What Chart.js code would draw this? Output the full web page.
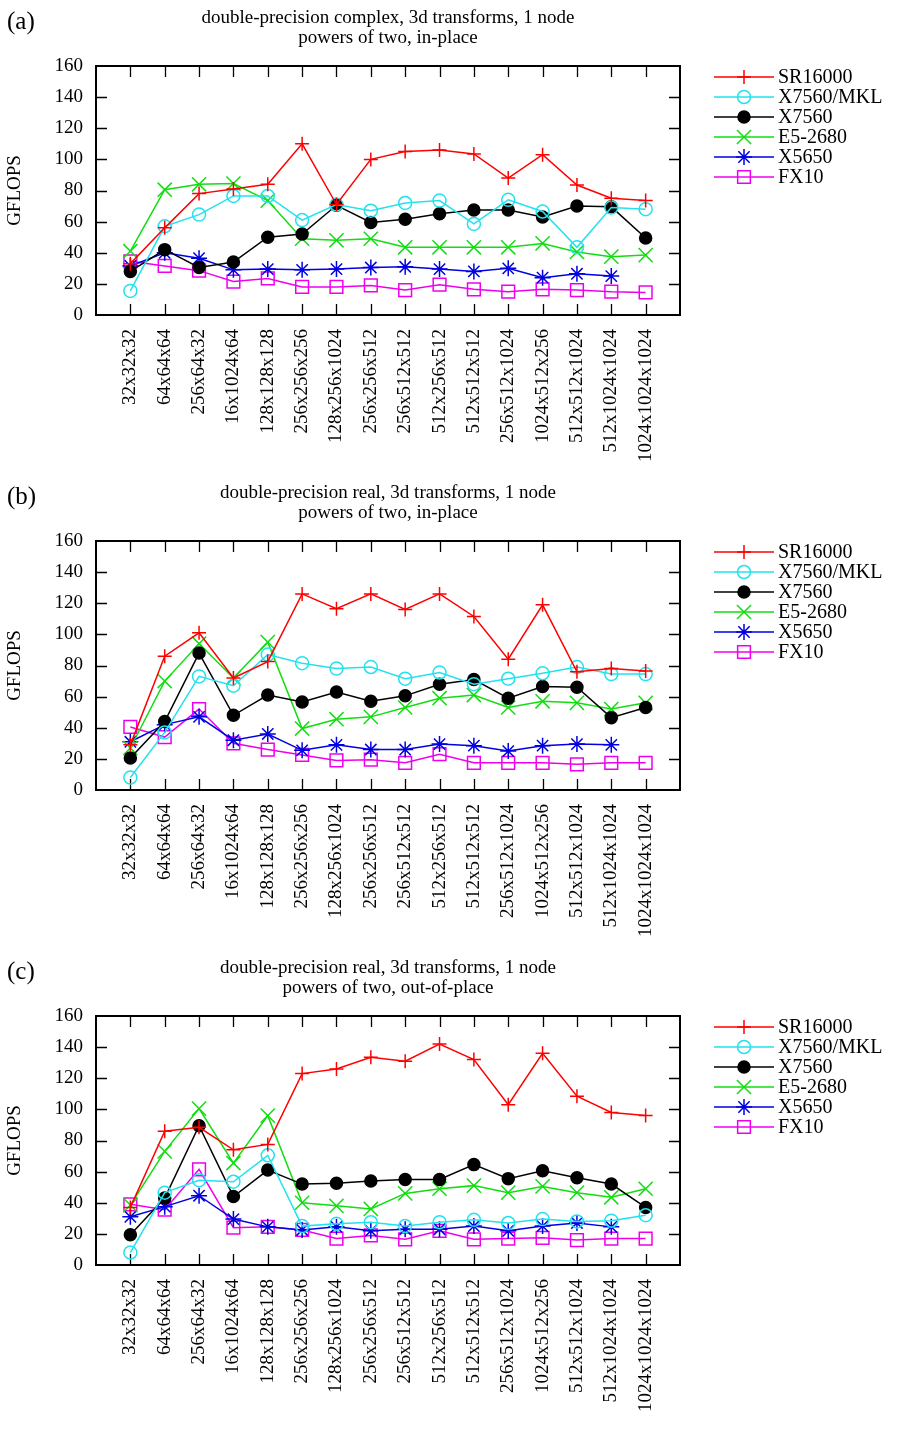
<!DOCTYPE html>
<html>
<head>
<meta charset="utf-8">
<script src="https://cdn.jsdelivr.net/npm/chart.js@4"></script>
<style>
  html, body { margin: 0; padding: 0; background: #fff; }
  #wrap { position: relative; width: 902px; height: 1440px; }
  canvas { position: absolute; left: 0; }
</style>
</head>
<body>
<div id="wrap">
  <canvas id="ca" width="902" height="475" style="top:0px"></canvas>
  <canvas id="cb" width="902" height="475" style="top:475px"></canvas>
  <canvas id="cc" width="902" height="475" style="top:950px"></canvas>
</div>
<script>
// ---------- data ----------
const categories = ['32x32x32','64x64x64','256x64x32','16x1024x64','128x128x128','256x256x256',
  '128x256x1024','256x256x512','256x512x512','512x256x512','512x512x512','256x512x1024',
  '1024x512x256','512x512x1024','512x1024x1024','1024x1024x1024'];
const seriesNames = ['SR16000','X7560/MKL','X7560','E5-2680','X5650','FX10'];
const yTicks = [0,20,40,60,80,100,120,140,160];

const titleA = ['double-precision complex, 3d transforms, 1 node', 'powers of two, in-place'];
const titleB = ['double-precision real, 3d transforms, 1 node', 'powers of two, in-place'];
const titleC = ['double-precision real, 3d transforms, 1 node', 'powers of two, out-of-place'];

// panel (a)
const aSR16000 = [33, 56, 78, 81, 84, 110, 71, 100, 105, 106, 103.5, 88, 103, 83.5, 75, 73.5];
const aX7560MKL = [15.5, 57, 64.5, 76.5, 76.5, 61, 71, 67, 72, 73.5, 58.5, 74, 66.5, 43.5, 69, 68];
const aX7560 = [28, 42, 30.5, 34, 50, 52, 70.5, 59.5, 61.5, 65, 67.5, 67.5, 63, 70, 69.5, 49.5];
const aE52680 = [41, 80.5, 84, 84.5, 73.5, 49, 48, 49, 43.5, 43.5, 43.5, 43.5, 46, 40.5, 37.5, 38.5];
const aX5650 = [31.5, 40, 36.5, 29, 29.5, 29, 29.5, 30.5, 31, 29.5, 28, 30, 24, 26.5, 25, null];
const aFX10 = [34.5, 31.5, 28.5, 21.5, 23.5, 18, 18, 19, 16, 19.5, 16.5, 15, 16.5, 16, 15, 14.5];

// panel (b)
const bSR16000 = [29, 86, 101, 72, 82.5, 126, 116.5, 126, 116, 126, 111.5, 84, 119, 76, 78, 76.5];
const bX7560MKL = [8, 37, 73, 67, 87, 81.5, 78, 79, 71.5, 75.5, 68, 71.5, 75, 79, 74.5, 74.5];
const bX7560 = [20.5, 44, 88, 48, 61, 56.5, 63, 57, 60.5, 68, 71, 59, 66.5, 66, 46.5, 53];
const bE52680 = [27, 70, 94, 72, 95, 39.5, 45.5, 47, 53, 59, 61, 53, 57, 56, 52, 56];
const bX5650 = [31, 42, 47, 32, 36, 25.5, 29, 26, 26, 29.5, 28.5, 25, 28.5, 29.5, 29, null];
const bFX10 = [40.5, 34, 52, 30, 26, 22.5, 19, 19.5, 17.5, 23, 17.5, 17.5, 17.5, 16.5, 17.5, 17.5];

// panel (c)
const cSR16000 = [37, 86, 88.5, 74, 77.5, 123, 126, 133.5, 131, 142, 132, 103, 136, 108.5, 98, 96];
const cX7560MKL = [8, 46.5, 54.5, 53.5, 70.5, 25, 26.5, 27.5, 25, 27.5, 29, 27, 29.5, 28, 28.5, 32];
const cX7560 = [19.5, 43, 89.5, 44, 61, 52, 52.5, 54, 55, 55, 64.5, 55.5, 60.5, 56, 52, 37];
const cE52680 = [38.5, 73, 100.5, 65.5, 96, 40, 38, 36, 46, 49, 51, 46.5, 50.5, 46.5, 43.5, 49];
const cX5650 = [31, 37.5, 44.5, 29.5, 24.5, 22.5, 24.5, 22, 23, 23, 25, 22, 25, 27, 24.5, null];
const cFX10 = [39, 35.5, 61.5, 24, 24.5, 22.5, 17, 19, 16.5, 22, 16.5, 17, 17.5, 16, 17, 17];

// ---------- styles ----------
const FONT = "'Liberation Serif', 'Times New Roman', serif";
const styles = [
  { color: '#ff0000', pointStyle: 'cross',    radius: 7,   fill: 'rgba(0,0,0,0)' },
  { color: '#22e2ee', pointStyle: 'circle',   radius: 6.5, fill: 'rgba(0,0,0,0)' },
  { color: '#000000', pointStyle: 'circle',   radius: 6,   fill: '#000000' },
  { color: '#11dd11', pointStyle: 'crossRot', radius: 10,  fill: 'rgba(0,0,0,0)' },
  { color: '#0000e0', pointStyle: 'star',     radius: 8,   fill: 'rgba(0,0,0,0)' },
  { color: '#ee00ee', pointStyle: 'rect',     radius: 9,   fill: 'rgba(0,0,0,0)' }
];

function toPoints(arr) {
  const pts = [];
  arr.forEach((v, i) => { if (v !== null) pts.push({ x: i, y: v }); });
  return pts;
}

const framePlugin = {
  id: 'frame',
  beforeDatasetsDraw(chart) {
    const { ctx, chartArea: a, scales: { x, y } } = chart;
    ctx.save();
    ctx.strokeStyle = '#000';
    ctx.lineWidth = 1.3;
    const TL = 11;
    ctx.beginPath();
    for (let i = 0; i < categories.length; i++) {
      const px = Math.round(x.getPixelForValue(i)) + 0.5;
      ctx.moveTo(px, a.bottom); ctx.lineTo(px, a.bottom - TL);
      ctx.moveTo(px, a.top); ctx.lineTo(px, a.top + TL);
    }
    yTicks.forEach(t => {
      if (t === yTicks[0] || t === yTicks[yTicks.length - 1]) return;
      const py = Math.round(y.getPixelForValue(t)) + 0.5;
      ctx.moveTo(a.left, py); ctx.lineTo(a.left + TL, py);
      ctx.moveTo(a.right, py); ctx.lineTo(a.right - TL, py);
    });
    ctx.stroke();
    ctx.lineWidth = 2;
    ctx.strokeRect(a.left, a.top, a.right - a.left, a.bottom - a.top);
    ctx.restore();
  },
  afterDraw(chart) {
    const { ctx } = chart;
    const opts = chart.options.plugins.frame;
    ctx.save();
    // panel label
    ctx.fillStyle = '#000';
    ctx.font = '25px ' + FONT;
    ctx.textBaseline = 'middle';
    ctx.textAlign = 'left';
    ctx.fillText(opts.label, 7, 22);
    // legend
    chart.data.datasets.forEach((ds, i) => {
      const st = styles[i];
      const yy = 77 + 20 * i;
      ctx.strokeStyle = st.color;
      ctx.lineWidth = 1.5;
      ctx.beginPath();
      ctx.moveTo(714, yy); ctx.lineTo(774, yy);
      ctx.stroke();
      ctx.fillStyle = st.fill;
      Chart.helpers.drawPoint(ctx, { pointStyle: st.pointStyle, radius: st.radius, borderWidth: 1.5, rotation: 0 }, 744, yy);
      ctx.fillStyle = '#000';
      ctx.font = '20px ' + FONT;
      ctx.textAlign = 'left';
      ctx.textBaseline = 'middle';
      ctx.fillText(ds.label, 778, yy + 1);
    });
    ctx.restore();
  }
};

function makeChart(id, label, title, arrays) {
  const datasets = arrays.map((arr, i) => ({
    label: seriesNames[i],
    data: toPoints(arr),
    borderColor: styles[i].color,
    backgroundColor: styles[i].fill,
    pointBackgroundColor: styles[i].fill,
    pointBorderColor: styles[i].color,
    pointStyle: styles[i].pointStyle,
    pointRadius: styles[i].radius,
    pointBorderWidth: 1.5,
    borderWidth: 1.5,
    tension: 0,
    fill: false
  }));
  return new Chart(document.getElementById(id), {
    type: 'line',
    data: { datasets },
    plugins: [framePlugin],
    options: {
      responsive: false,
      animation: false,
      events: [],
      layout: { padding: { left: 0, right: 222, top: 0, bottom: 0 } },
      plugins: {
        legend: { display: false },
        tooltip: { enabled: false },
        frame: { label },
        title: {
          display: true,
          fullSize: false,
          text: title,
          color: '#000',
          font: { family: FONT, size: 19, weight: 'normal', lineHeight: '20px' },
          padding: { top: 8, bottom: 18 }
        }
      },
      scales: {
        x: {
          type: 'linear',
          min: -1,
          max: 16,
          afterFit: s => { s.height = 160; },
          afterBuildTicks: s => { s.ticks = categories.map((c, i) => ({ value: i })); },
          grid: { display: false, drawTicks: false },
          border: { display: false },
          ticks: {
            autoSkip: false,
            maxRotation: 90,
            minRotation: 90,
            padding: 14,
            color: '#000',
            font: { family: FONT, size: 19 },
            callback: v => (categories[v] !== undefined ? categories[v] : '')
          }
        },
        y: {
          min: 0,
          max: 160,
          afterFit: s => { s.width = 96; },
          afterBuildTicks: s => { s.ticks = yTicks.map(v => ({ value: v })); },
          grid: { display: false, drawTicks: false },
          border: { display: false },
          ticks: {
            padding: 13,
            color: '#000',
            font: { family: FONT, size: 19 }
          },
          title: {
            display: true,
            text: 'GFLOPS',
            color: '#000',
            font: { family: FONT, size: 19 },
            padding: { top: 4, bottom: 0 }
          }
        }
      }
    }
  });
}

makeChart('ca', '(a)', titleA, [aSR16000, aX7560MKL, aX7560, aE52680, aX5650, aFX10]);
makeChart('cb', '(b)', titleB, [bSR16000, bX7560MKL, bX7560, bE52680, bX5650, bFX10]);
makeChart('cc', '(c)', titleC, [cSR16000, cX7560MKL, cX7560, cE52680, cX5650, cFX10]);
</script>
</body>
</html>
